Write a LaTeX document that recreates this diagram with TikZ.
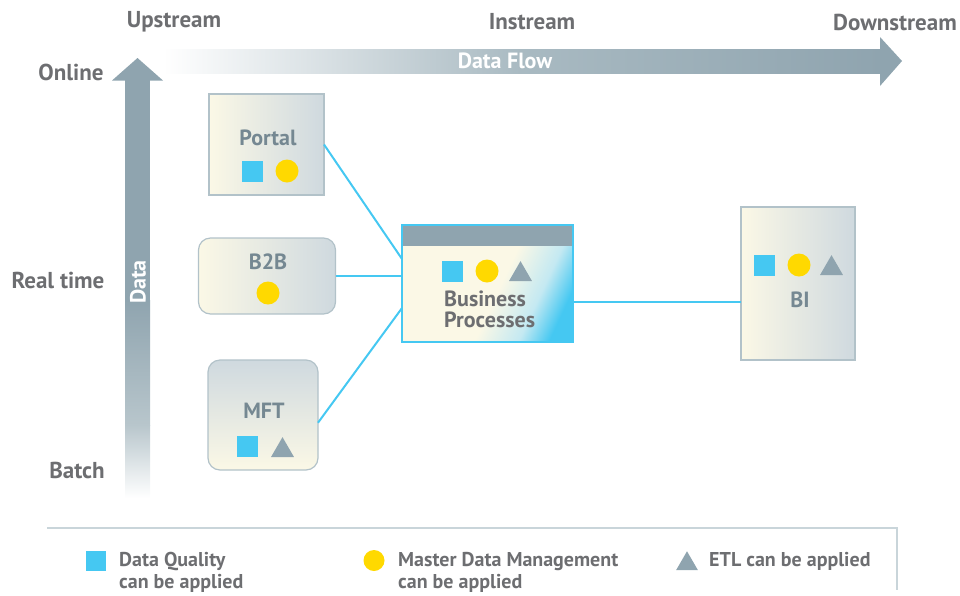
\documentclass[tikz,border=0pt]{standalone}
\usepackage{fontspec}
\setmainfont{PT Sans}
\usetikzlibrary{calc,shapes.geometric}
\definecolor{txt}{HTML}{6D6E71}
\definecolor{boxtxt}{HTML}{758892}
\definecolor{arrowc}{HTML}{8FA4AF}
\definecolor{arrowmid}{HTML}{A9BAC2}
\definecolor{arrowlow}{HTML}{B8C6CC}
\definecolor{cream}{HTML}{FBF8E6}
\definecolor{boxgray}{HTML}{CFD9DF}
\definecolor{boxline}{HTML}{B2C2C9}
\definecolor{dqblue}{HTML}{45C8F2}
\definecolor{bpmid}{HTML}{C4E9F2}
\definecolor{mdmyel}{HTML}{FFD900}
\definecolor{legline}{HTML}{C9D5DA}
\pgfdeclarehorizontalshading{bpshade}{100bp}{color(0bp)=(cream); color(25bp)=(cream); color(54bp)=(cream); color(67bp)=(bpmid); color(76bp)=(dqblue); color(100bp)=(dqblue)}
\tikzset{
  hdr/.style={font=\bfseries\fontsize{23}{27}\selectfont, text=txt},
  boxlbl/.style={font=\bfseries\fontsize{22}{26}\selectfont, text=boxtxt},
  legtxt/.style={font=\bfseries\fontsize{20}{22}\selectfont, text=txt, align=left, anchor=north west, inner sep=0pt},
  wtxt/.style={font=\bfseries\fontsize{22}{26}\selectfont, text=white},
  sqicon/.style={fill=dqblue, rectangle, minimum size=21pt, inner sep=0pt, outer sep=0pt},
  circicon/.style={fill=mdmyel, circle, minimum size=23pt, inner sep=0pt, outer sep=0pt},
  triicon/.style={fill=arrowc, regular polygon, regular polygon sides=3, minimum size=26.5pt, inner sep=0pt, outer sep=0pt, anchor=south},
  sysbox/.style={draw=boxline, line width=1.2pt, rectangle, inner sep=0pt, outer sep=0pt},
  link/.style={draw=dqblue, line width=2pt},
}
\begin{document}
\begin{tikzpicture}[x=1pt, y=-1pt]
\useasboundingbox (0,0) rectangle (960,595);

% headers
\node[hdr] (up) at (174,22) {Upstream};
\node[hdr] (in) at (532,22) {Instream};
\node[hdr] (down) at (895,22) {Downstream};
\node[hdr] (online) at (71,72) {Online};
\node[hdr] (rt) at (58,280) {Real time};
\node[hdr] (batch) at (77,470) {Batch};

% horizontal data flow arrow
\shade[left color=white, right color=arrowmid] (163,49) rectangle (520.5,73);
\shade[left color=arrowmid, right color=arrowc] (520,49) rectangle (881,73);
\fill[arrowc] (880,37) -- (902,61) -- (880,86) -- cycle;
\node[wtxt] (flow) at (505,61) {Data Flow};

% vertical data arrow
\fill[arrowc] (112,80.5) -- (137.5,58) -- (163,80.5) -- cycle;
\fill[arrowc] (125,80) rectangle (150,300.5);
\shade[top color=arrowc, bottom color=arrowlow] (125,300) rectangle (150,425.5);
\shade[top color=arrowlow, bottom color=white] (125,425) rectangle (150,498);
\node[wtxt, rotate=90] (data) at (138,282) {Data};

% boxes
\node[sysbox, left color=cream, right color=boxgray, minimum width=115pt, minimum height=101pt] (portal) at (266.5,144.5) {};
\node[sysbox, left color=cream, right color=boxgray, minimum width=137pt, minimum height=76pt, rounded corners=12pt] (b2b) at (267,276) {};
\node[sysbox, top color=boxgray, bottom color=cream, minimum width=110pt, minimum height=110pt, rounded corners=12pt] (mft) at (263,415) {};
\node[sysbox, draw=dqblue, shading=bpshade, shading angle=-25, minimum width=171pt, minimum height=117pt] (bp) at (487.5,283.5) {};
\fill[arrowc] (402,224.5) rectangle (573,246);
\draw[dqblue, line width=1.2pt] (bp.north west) rectangle (bp.south east);
\node[sysbox, left color=cream, right color=boxgray, minimum width=114pt, minimum height=153pt] (bi) at (798,283.5) {};

% box labels and icons
\node[boxlbl] (portaltxt) at (268,138) {Portal};
\node[sqicon] (portalsq) at (252.5,171) {};
\node[circicon] (portalci) at (287,171) {};

\node[boxlbl] (b2btxt) at (268,262) {B2B};
\node[circicon] (b2bci) at (268,293) {};

\node[boxlbl] (mfttxt) at (264,411) {MFT};
\node[sqicon] (mftsq) at (247.5,446.5) {};
\node[triicon] (mfttri) at (282.5,457) {};

\node[sqicon] (bpsq) at (452.5,271.5) {};
\node[circicon] (bpci) at (487,271) {};
\node[triicon] (bptri) at (520.5,281) {};
\node[font=\bfseries\fontsize{22}{21}\selectfont, text=txt, align=left, anchor=north west, inner sep=0pt] (bptxt) at (444,291) {Business\\Processes};

\node[sqicon] (bisq) at (764.5,265.5) {};
\node[circicon] (bici) at (799,265) {};
\node[triicon] (bitri) at (831.5,275) {};
\node[boxlbl] (bitxt) at (800,300) {BI};

% connectors
\draw[link] (portal.east) -- (bp.164);
\draw[link] (b2b.east) -- (b2b.east -| bp.west);
\draw[link] (mft.-8) -- (bp.196);
\draw[link] (bp.348) -- (bp.348 -| bi.west);

% legend
\draw[legline, line width=1.2pt] (47,528) -- (897,528) -- (897,590);
\node[sqicon, minimum size=20pt] (legsq) at (95.5,560.5) {};
\node[legtxt] (legsqt) at (119,552) {Data Quality\\can be applied};
\node[circicon, minimum size=21pt] (legci) at (374,560.5) {};
\node[legtxt] (legcit) at (398,552) {Master Data Management\\can be applied};
\node[triicon, minimum size=25pt] (legtri) at (687,570) {};
\node[legtxt] (legtrit) at (709,552) {ETL can be applied};
\end{tikzpicture}
\end{document}
